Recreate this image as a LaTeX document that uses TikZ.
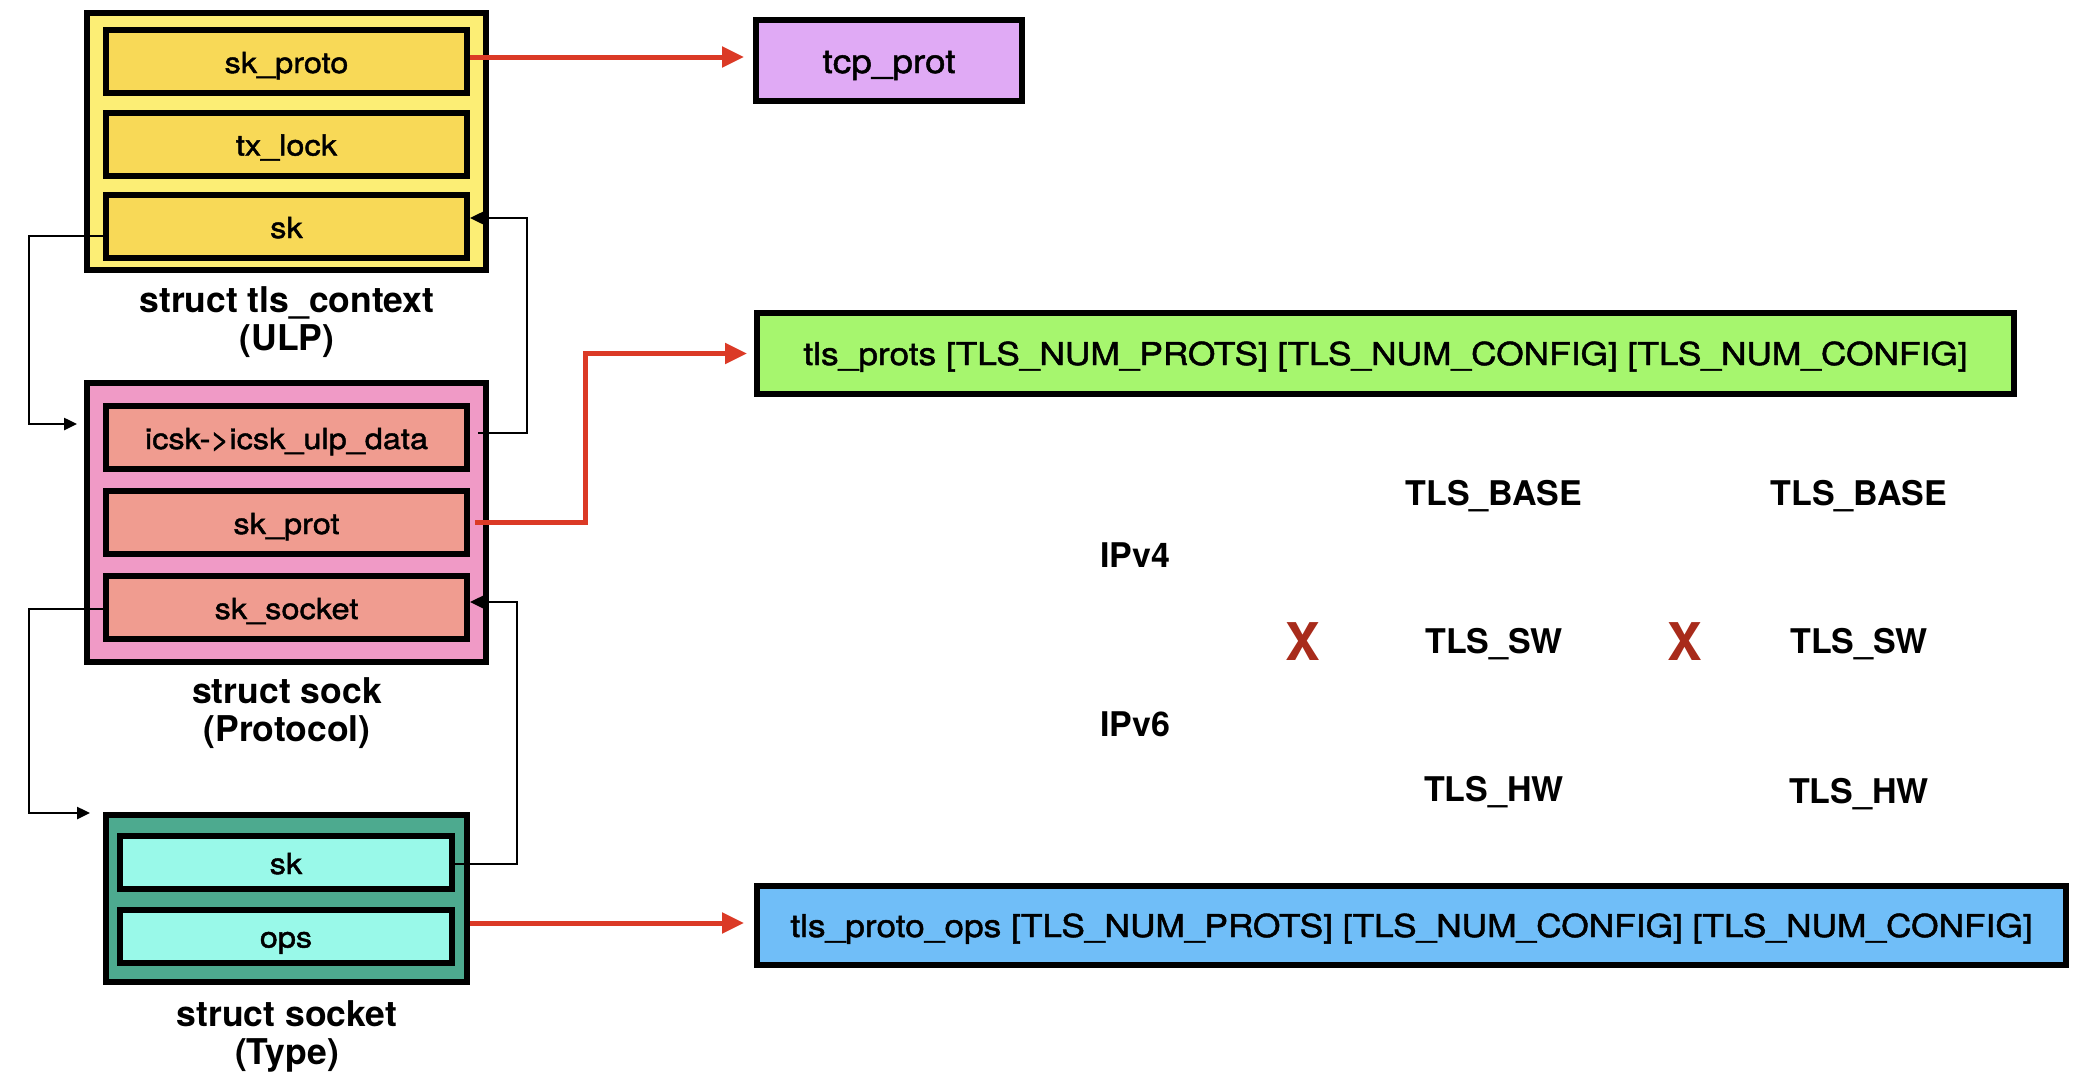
\documentclass[tikz,border=0pt]{standalone}
\usepackage{fontspec}
\setmainfont{TeX Gyre Heros}
\newfontfamily\fieldfont[FakeStretch=1.12,FakeBold=1.5]{TeX Gyre Heros}
\usetikzlibrary{arrows.meta}

\definecolor{ctxouter}{HTML}{FCEE75}
\definecolor{ctxfield}{HTML}{F8D957}
\definecolor{sockouter}{HTML}{F09AC6}
\definecolor{sockfield}{HTML}{F09C90}
\definecolor{sktouter}{HTML}{4DAA8F}
\definecolor{sktfield}{HTML}{99F9E9}
\definecolor{tcpfill}{HTML}{E0AAF5}
\definecolor{protsfill}{HTML}{A6F66E}
\definecolor{opsfill}{HTML}{70BEF8}
\definecolor{ptrred}{HTML}{DB3A26}
\definecolor{xred}{HTML}{A82B1B}

\tikzset{
  structbox/.style={draw, line width=6pt, inner sep=0pt},
  field/.style={draw, line width=6pt, inner sep=0pt, minimum width=361pt, minimum height=63pt,
    font=\fieldfont\fontsize{29}{34}\selectfont, text height=25pt, text depth=2pt},
  arraybox/.style={draw, line width=6pt, inner sep=0pt, minimum height=81pt,
    font=\fieldfont\fontsize{31.5}{36}\selectfont, text height=27pt, text depth=4pt},
  structlabel/.style={align=center, font=\bfseries\fontsize{35.5}{38}\selectfont},
  idx/.style={anchor=base, font=\bfseries\fontsize{34}{40}\selectfont},
  link/.style={line width=2.5pt},
  ptr/.style={link, -{Triangle[length=13pt,width=12pt]}},
  redptr/.style={draw=ptrred, line width=5pt, -{Triangle[length=22pt,width=20pt]}},
}

\begin{document}
\begin{tikzpicture}[x=1pt, y=-1pt]
    \useasboundingbox (0,0) rectangle (2078,1084);

    % struct tls_context
    \node[structbox, fill=ctxouter, minimum width=399pt, minimum height=257pt] (ctx) at (286.5,141.5) {};
    \node[field, fill=ctxfield] (ctxproto) at (286.5,61.5) {sk\_proto};
    \node[field, fill=ctxfield] (ctxlock) at (286.5,144) {tx\_lock};
    \node[field, fill=ctxfield] (ctxsk) at (286.5,226.5) {sk};
    \node[structlabel] (ctxname) at (287,322) {struct tls\_context\\(ULP)};

    % struct sock
    \node[structbox, fill=sockouter, minimum width=399pt, minimum height=279pt] (sock) at (286.5,522.5) {};
    \node[field, fill=sockfield] (sockulp) at (286.5,437.5) {icsk->icsk\_ulp\_data};
    \node[field, fill=sockfield] (sockprot) at (286.5,522.5) {sk\_prot};
    \node[field, fill=sockfield] (socksocket) at (286.5,607.5) {sk\_socket};
    \node[structlabel] (sockname) at (287,713) {struct sock\\(Protocol)};

    % struct socket
    \node[structbox, fill=sktouter, minimum width=361pt, minimum height=167pt] (skt) at (286.5,898.5) {};
    \node[field, fill=sktfield, minimum width=332pt, minimum height=53pt] (sktsk) at (286,862.5) {sk};
    \node[field, fill=sktfield, minimum width=332pt, minimum height=53pt] (sktops) at (286,936) {ops};
    \node[structlabel] (sktname) at (287,1036) {struct socket\\(Type)};

    % tables
    \node[arraybox, fill=tcpfill, minimum width=266pt, font=\fieldfont\fontsize{33}{38}\selectfont,
      text height=28pt, text depth=3pt] (tcpprot) at (889,60.5) {tcp\_prot};
    \node[arraybox, fill=protsfill, minimum width=1257pt] (tlsprots) at (1385.5,353.5)
      {tls\_prots [TLS\_NUM\_PROTS] [TLS\_NUM\_CONFIG] [TLS\_NUM\_CONFIG]};
    \node[arraybox, fill=opsfill, minimum width=1309pt, minimum height=79pt] (tlsops) at (1411.5,925.5)
      {tls\_proto\_ops [TLS\_NUM\_PROTS] [TLS\_NUM\_CONFIG] [TLS\_NUM\_CONFIG]};

    \node[idx] (base1) at (1494,505) {TLS\_BASE};
    \node[idx] (base2) at (1859,505) {TLS\_BASE};
    \node[idx] (ipv4) at (1135,567) {IPv4};
    \node[idx, text=xred, font=\bfseries\fontsize{52}{56}\selectfont] (cross1) at (1303,660) {X};
    \node[idx] (sw1) at (1494,653) {TLS\_SW};
    \node[idx, text=xred, font=\bfseries\fontsize{52}{56}\selectfont] (cross2) at (1685,660) {X};
    \node[idx] (sw2) at (1859,653) {TLS\_SW};
    \node[idx] (ipv6) at (1135,736) {IPv6};
    \node[idx] (hw1) at (1494,801) {TLS\_HW};
    \node[idx] (hw2) at (1859,803) {TLS\_HW};

    % pointers
    \draw[ptr, shorten >=7pt] ([yshift=-9.5pt]ctxsk.west) -- (29,236) |- (sock.west |- 0,424);
    \draw[ptr] ([shift={(8pt,4.5pt)}]sockulp.east) -- (527,433) |- ([yshift=8.5pt]ctxsk.east);
    \draw[ptr, shorten >=13pt] ([yshift=-1.5pt]socksocket.west) -- (29,609) |- (skt.west |- 0,813);
    \draw[ptr] ([yshift=-1.5pt]sktsk.east) -- (517,864) |- ([yshift=5.5pt]socksocket.east);

    \draw[redptr, shorten >=9pt] ([yshift=4.5pt]ctxproto.east) -- (tcpprot.west |- 0,57);
    \draw[redptr, shorten >=7pt] ([xshift=5pt]sockprot.east) -- (585,522.5) |- (tlsprots.west);
    \draw[redptr, shorten >=10pt] (skt.east |- 0,923) -- (tlsops.west |- 0,923);
\end{tikzpicture}
\end{document}
